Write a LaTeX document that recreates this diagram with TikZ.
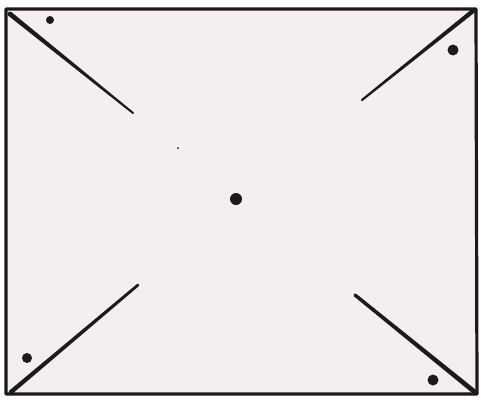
\documentclass[tikz,border=0pt]{standalone}
\usetikzlibrary{calc}
\definecolor{paper}{HTML}{F4EEEE}
\definecolor{ink}{HTML}{1E1A1A}
\tikzset{
  frame/.style={draw=ink, line width=3.2pt, fill=paper, line join=round},
  dotmark/.style={fill=ink},
}
\newcommand{\taper}[4]{% from, to, half width at from, half width at to
  \fill[ink] ($(#1)!#3!90:(#2)$) -- ($(#1)!#3!-90:(#2)$) -- ($(#2)!#4!90:(#1)$) -- ($(#2)!#4!-90:(#1)$) -- cycle;
  \fill[ink] (#1) circle (#3);
  \fill[ink] (#2) circle (#4);
}
\begin{document}
\begin{tikzpicture}[x=1pt,y=-1pt]
\useasboundingbox[fill=white] (0,0) rectangle (481,399);
\draw[frame] (6,9) -- (476,9) -- (477,394) -- (6,394) -- cycle;
% corners and inner ends
\coordinate (tl) at (10,14);  \coordinate (tli) at (133,113);
\coordinate (tr) at (473,11); \coordinate (tri) at (362,100);
\coordinate (bl) at (11,392); \coordinate (bli) at (138,285);
\coordinate (br) at (476,393); \coordinate (bri) at (355,295);
\taper{tl}{tli}{2.4pt}{1pt}
\taper{tr}{tri}{2.2pt}{1.1pt}
\taper{bl}{bli}{2.2pt}{1.4pt}
\taper{br}{bri}{2.4pt}{1.7pt}
% dots
\fill[dotmark] (50,20) circle (4);
\fill[dotmark] (453,50) circle (5.5);
\fill[dotmark] (27,358) circle (5);
\fill[dotmark] (433,380) circle (5.5);
\fill[dotmark] (236,199) circle (6);
\fill[dotmark] (178,148) circle (1);
\end{tikzpicture}
\end{document}
